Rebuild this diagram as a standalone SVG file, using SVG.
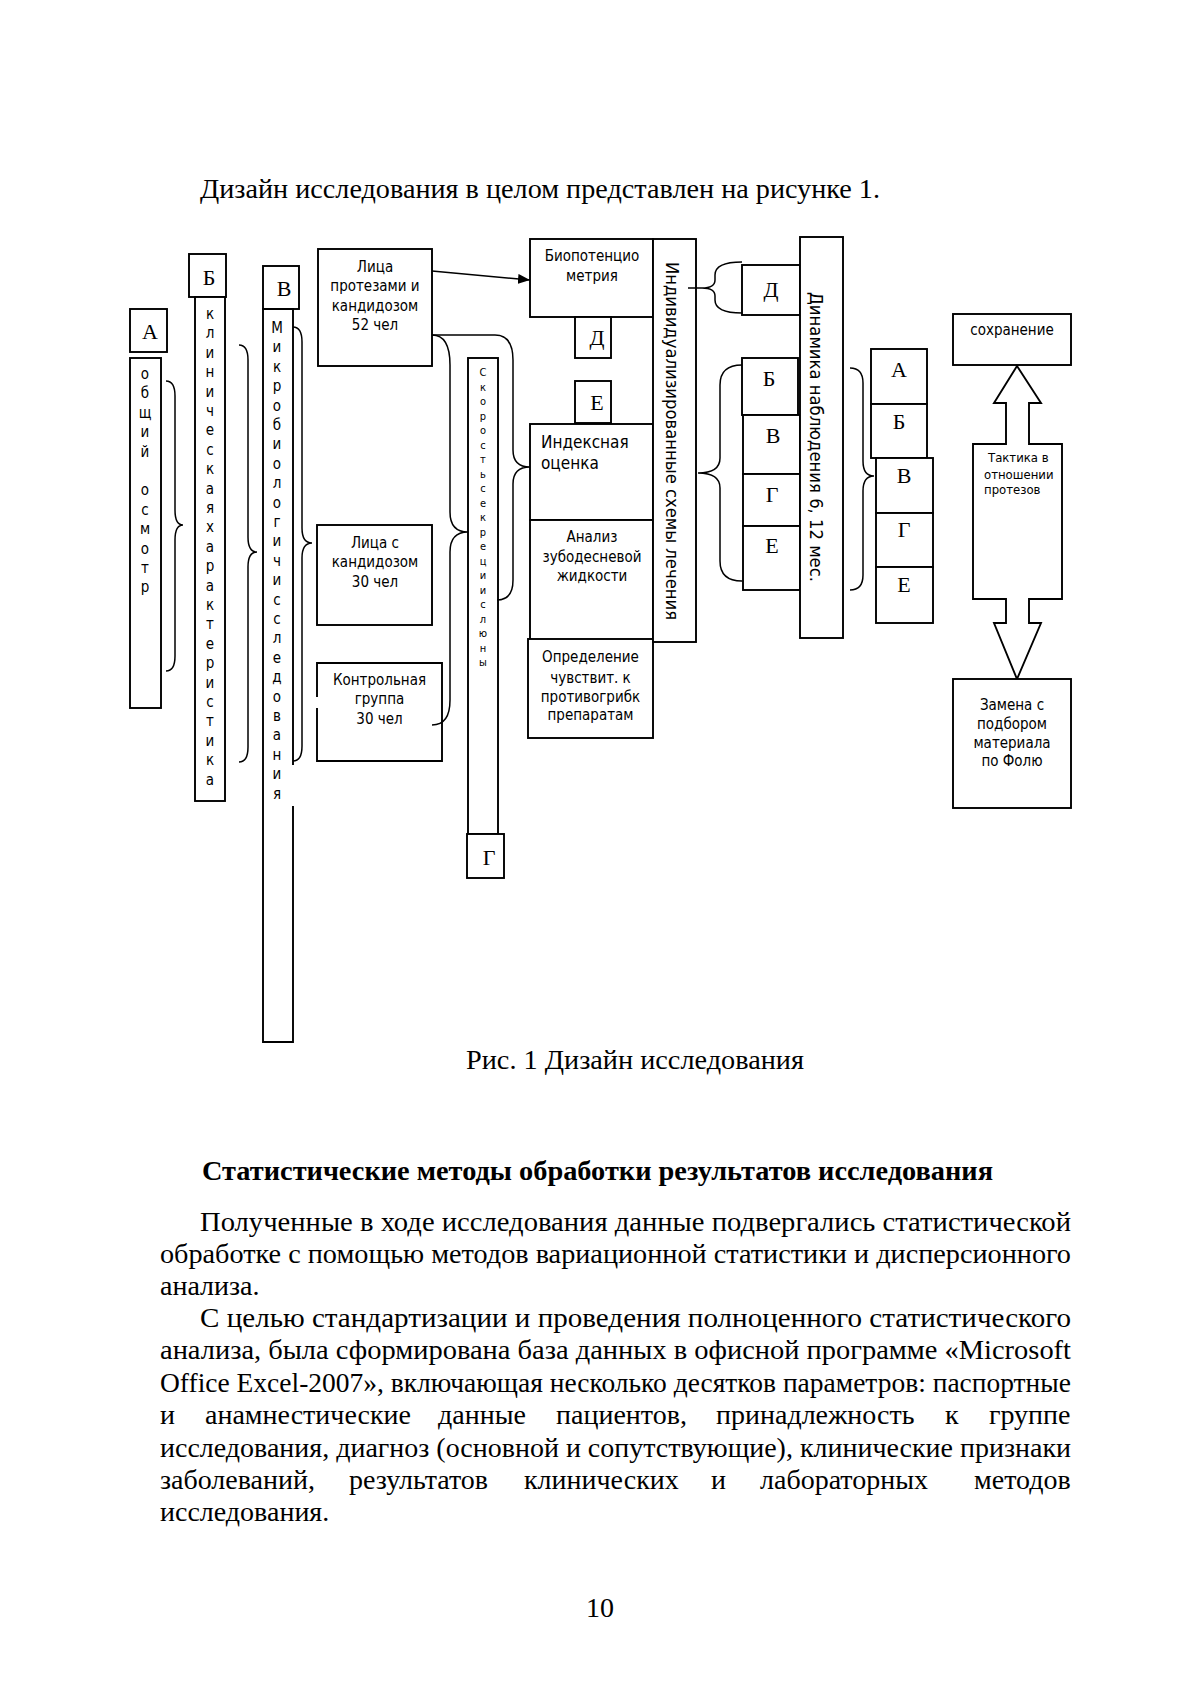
<svg xmlns="http://www.w3.org/2000/svg" width="1197" height="1693" viewBox="0 0 1197 1693">
<style>
.b{fill:#fff;stroke:#000;stroke-width:1.9}
.o{fill:none;stroke:#000;stroke-width:1.9}
.c{fill:none;stroke:#000;stroke-width:1.5}
.s{font-family:"DejaVu Sans Condensed","DejaVu Sans",sans-serif;font-size:15px;text-anchor:middle;fill:#000}
.v{font-family:"DejaVu Sans Condensed","DejaVu Sans",sans-serif;font-size:15px;text-anchor:middle;fill:#000}
.l{font-family:"Liberation Serif",serif;font-size:22px;text-anchor:middle;fill:#000}
.p{font-family:"Liberation Serif",serif;font-size:28px;fill:#000}
</style>
<defs>
<marker id="ah" markerWidth="12" markerHeight="10" refX="12" refY="5" orient="auto" markerUnits="userSpaceOnUse">
<path d="M0,0 L12,5 L0,10 z" fill="#000"/>
</marker>
</defs>
<rect width="1197" height="1693" fill="#fff"/>

<text class="p" x="200" y="198" textLength="680" lengthAdjust="spacingAndGlyphs">Дизайн исследования в целом представлен на рисунке 1.</text>

<g id="nA">
<rect class="b" x="130" y="309" width="37" height="43"/>
<text class="l" x="150" y="339">А</text>
</g>
<g id="nA-col">
<rect class="b" x="130" y="358" width="31" height="350"/>
<text class="v"><tspan x="145" y="379">о</tspan><tspan x="145" dy="19.4">б</tspan><tspan x="145" dy="19.4">щ</tspan><tspan x="145" dy="19.4">и</tspan><tspan x="145" dy="19.4">й</tspan><tspan x="145" dy="38.8">о</tspan><tspan x="145" dy="19.4">с</tspan><tspan x="145" dy="19.4">м</tspan><tspan x="145" dy="19.4">о</tspan><tspan x="145" dy="19.4">т</tspan><tspan x="145" dy="19.4">р</tspan></text>
</g>
<g id="nB">
<rect class="b" x="189" y="254" width="37" height="43"/>
<text class="l" x="209" y="285">Б</text>
</g>
<g id="nB-col">
<rect class="b" x="195" y="297" width="30" height="504"/>
<text class="v"><tspan x="210" y="319">к</tspan><tspan x="210" dy="19.4">л</tspan><tspan x="210" dy="19.4">и</tspan><tspan x="210" dy="19.4">н</tspan><tspan x="210" dy="19.4">и</tspan><tspan x="210" dy="19.4">ч</tspan><tspan x="210" dy="19.4">е</tspan><tspan x="210" dy="19.4">с</tspan><tspan x="210" dy="19.4">к</tspan><tspan x="210" dy="19.4">а</tspan><tspan x="210" dy="19.4">я</tspan><tspan x="210" dy="19.4">х</tspan><tspan x="210" dy="19.4">а</tspan><tspan x="210" dy="19.4">р</tspan><tspan x="210" dy="19.4">а</tspan><tspan x="210" dy="19.4">к</tspan><tspan x="210" dy="19.4">т</tspan><tspan x="210" dy="19.4">е</tspan><tspan x="210" dy="19.4">р</tspan><tspan x="210" dy="19.4">и</tspan><tspan x="210" dy="19.4">с</tspan><tspan x="210" dy="19.4">т</tspan><tspan x="210" dy="19.4">и</tspan><tspan x="210" dy="19.4">к</tspan><tspan x="210" dy="19.4">а</tspan></text>
</g>
<g id="nV">
<rect class="b" x="263" y="266" width="36" height="43"/>
<text class="l" x="284" y="296">В</text>
</g>
<g id="nV-col">
<rect x="263" y="309" width="30" height="733" fill="#fff"/>
<path class="o" d="M293,765 L293,309 L263,309 L263,1042 L293,1042 L293,806"/>
<text class="v"><tspan x="277" y="333">М</tspan><tspan x="277" dy="19.4">и</tspan><tspan x="277" dy="19.4">к</tspan><tspan x="277" dy="19.4">р</tspan><tspan x="277" dy="19.4">о</tspan><tspan x="277" dy="19.4">б</tspan><tspan x="277" dy="19.4">и</tspan><tspan x="277" dy="19.4">о</tspan><tspan x="277" dy="19.4">л</tspan><tspan x="277" dy="19.4">о</tspan><tspan x="277" dy="19.4">г</tspan><tspan x="277" dy="19.4">и</tspan><tspan x="277" dy="19.4">ч</tspan><tspan x="277" dy="19.4">и</tspan><tspan x="277" dy="19.4">с</tspan><tspan x="277" dy="19.4">с</tspan><tspan x="277" dy="19.4">л</tspan><tspan x="277" dy="19.4">е</tspan><tspan x="277" dy="19.4">д</tspan><tspan x="277" dy="19.4">о</tspan><tspan x="277" dy="19.4">в</tspan><tspan x="277" dy="19.4">а</tspan><tspan x="277" dy="19.4">н</tspan><tspan x="277" dy="19.4">и</tspan><tspan x="277" dy="19.4">я</tspan></text>
</g>

<g id="n52">
<rect class="b" x="318" y="249" width="114" height="117"/>
<text class="s"><tspan x="375" y="271.5">Лица</tspan><tspan x="375" y="291">протезами и</tspan><tspan x="375" y="310.5">кандидозом</tspan><tspan x="375" y="329.5">52 чел</tspan></text>
</g>
<g id="n30">
<rect class="b" x="317" y="525" width="115" height="100"/>
<text class="s"><tspan x="375" y="548">Лица с</tspan><tspan x="375" y="567">кандидозом</tspan><tspan x="375" y="587">30 чел</tspan></text>
</g>
<g id="nControl">
<rect x="317" y="663" width="125" height="98" fill="#fff"/>
<path class="o" d="M317,697 L317,663 L442,663 L442,761 L317,761 L317,708"/>
<text class="s"><tspan x="379.5" y="685">Контрольная</tspan><tspan x="379.5" y="704">группа</tspan><tspan x="379.5" y="724">30 чел</tspan></text>
</g>

<g id="nSaliva">
<rect class="b" x="468" y="358" width="30" height="476"/>
<text class="v" style="font-size:11px"><tspan x="483" y="376">С</tspan><tspan x="483" dy="14.5">к</tspan><tspan x="483" dy="14.5">о</tspan><tspan x="483" dy="14.5">р</tspan><tspan x="483" dy="14.5">о</tspan><tspan x="483" dy="14.5">с</tspan><tspan x="483" dy="14.5">т</tspan><tspan x="483" dy="14.5">ь</tspan><tspan x="483" dy="14.5">с</tspan><tspan x="483" dy="14.5">е</tspan><tspan x="483" dy="14.5">к</tspan><tspan x="483" dy="14.5">р</tspan><tspan x="483" dy="14.5">е</tspan><tspan x="483" dy="14.5">ц</tspan><tspan x="483" dy="14.5">и</tspan><tspan x="483" dy="14.5">и</tspan><tspan x="483" dy="14.5">с</tspan><tspan x="483" dy="14.5">л</tspan><tspan x="483" dy="14.5">ю</tspan><tspan x="483" dy="14.5">н</tspan><tspan x="483" dy="14.5">ы</tspan></text>
</g>
<g id="nG">
<rect class="b" x="467" y="834" width="37" height="44"/>
<text class="l" x="489" y="865">Г</text>
</g>

<g id="nBio">
<rect class="b" x="530" y="239" width="123" height="78"/>
<text class="s"><tspan x="592" y="261">Биопотенцио</tspan><tspan x="592" y="281">метрия</tspan></text>
</g>
<g id="nD1">
<rect class="b" x="575" y="317" width="36" height="41"/>
<text class="l" x="597" y="345">Д</text>
</g>
<g id="nE1">
<rect class="b" x="575" y="381" width="36" height="42"/>
<text class="l" x="597" y="410">Е</text>
</g>
<g id="nIndex">
<rect class="b" x="530" y="424" width="123" height="96"/>
<text class="s" style="text-anchor:start;font-size:17px"><tspan x="541" y="448">Индексная</tspan><tspan x="541" y="469">оценка</tspan></text>
</g>
<g id="nFluid">
<rect class="b" x="530" y="520" width="123" height="120"/>
<text class="s"><tspan x="592" y="542">Анализ</tspan><tspan x="592" y="562">зубодесневой</tspan><tspan x="592" y="581">жидкости</tspan></text>
</g>
<g id="nSens">
<rect class="b" x="528" y="639" width="125" height="99"/>
<text class="s"><tspan x="590.5" y="662">Определение</tspan><tspan x="590.5" y="683">чувствит. к</tspan><tspan x="590.5" y="702">противогрибк</tspan><tspan x="590.5" y="720">препаратам</tspan></text>
</g>
<g id="nSchemes">
<rect class="b" x="653" y="239" width="43" height="403"/>
<text class="v" style="font-size:17.5px" transform="translate(666,441) rotate(90)" x="0" y="0" textLength="358" lengthAdjust="spacingAndGlyphs">Индивидуализированные схемы лечения</text>
</g>

<g id="nD2">
<rect class="b" x="742" y="265" width="58" height="50"/>
<text class="l" x="771" y="297">Д</text>
</g>
<g id="nB2">
<rect class="b" x="742" y="358" width="56" height="57"/>
<text class="l" x="769" y="386">Б</text>
</g>
<g id="nV2">
<rect class="b" x="743" y="415" width="57" height="59"/>
<text class="l" x="773" y="443">В</text>
</g>
<g id="nG2">
<rect class="b" x="743" y="474" width="57" height="52"/>
<text class="l" x="772" y="502">Г</text>
</g>
<g id="nE2">
<rect class="b" x="743" y="526" width="57" height="64"/>
<text class="l" x="772" y="553">Е</text>
</g>
<g id="nDyn">
<rect class="b" x="800" y="237" width="43" height="401"/>
<text class="v" style="font-size:17.5px" transform="translate(810,437) rotate(90)" x="0" y="0" textLength="290" lengthAdjust="spacingAndGlyphs">Динамика наблюдения 6, 12 мес.</text>
</g>

<g id="nA3">
<rect class="b" x="871" y="349" width="56" height="55"/>
<text class="l" x="899" y="377">А</text>
</g>
<g id="nB3">
<rect class="b" x="871" y="404" width="56" height="54"/>
<text class="l" x="899" y="429">Б</text>
</g>
<g id="nV3">
<rect class="b" x="876" y="458" width="57" height="55"/>
<text class="l" x="904" y="483">В</text>
</g>
<g id="nG3">
<rect class="b" x="876" y="513" width="57" height="54"/>
<text class="l" x="904" y="537">Г</text>
</g>
<g id="nE3">
<rect class="b" x="876" y="567" width="57" height="56"/>
<text class="l" x="904" y="592">Е</text>
</g>

<g id="nKeep">
<rect class="b" x="953" y="314" width="118" height="51"/>
<text class="s" x="1012" y="335">сохранение</text>
</g>
<g id="nTactic">
<polygon class="b" points="1017,366 1041,403 1029,403 1029,444 1062,444 1062,599 1029,599 1029,623 1041,623 1017,679 994,623 1006,623 1006,599 973,599 973,444 1006,444 1006,403 994,403"/>
<text class="s" style="text-anchor:start;font-size:13px"><tspan x="988" y="462">Тактика в</tspan><tspan x="984" y="479">отношении</tspan><tspan x="984" y="494">протезов</tspan></text>
</g>
<g id="nReplace">
<rect class="b" x="953" y="679" width="118" height="129"/>
<text class="s"><tspan x="1012" y="710">Замена с</tspan><tspan x="1012" y="729">подбором</tspan><tspan x="1012" y="748">материала</tspan><tspan x="1012" y="766">по Фолю</tspan></text>
</g>

<g id="connectors">
<line class="c" x1="432" y1="271" x2="530" y2="280" marker-end="url(#ah)"/>
<path class="c" d="M166,381 Q175,381 175,396 L175,510 Q175,525 183,525 Q175,525 175,540 L175,656 Q175,671 166,671"/>
<path class="c" d="M239,345 Q248,345 248,360 L248,537 Q248,552 257,552 Q248,552 248,567 L248,747 Q248,762 239,762"/>
<path class="c" d="M293,327 Q302,327 302,342 L302,528 Q302,543 312,543 Q302,543 302,558 L302,746 Q302,761 293,761"/>
<path class="c" d="M432,335 Q450,335 450,365 L450,512 Q450,532 468,532 Q450,532 450,552 L450,700 Q450,725 432,725"/>
<path class="c" d="M432,335 L495,335 Q513,335 513,360 L513,450 Q513,467 530,467 Q513,467 513,484 L513,580 Q513,600 497,600"/>
<path class="c" d="M688,288 L702,288 M742,262 Q715,262 715,275 L715,280 Q715,288 702,288 Q715,288 715,296 L715,300 Q715,313 742,313"/>
<path class="c" d="M742,365 Q720,365 720,385 L720,458 Q720,473 698,473 Q720,473 720,488 L720,561 Q720,581 742,581"/>
<path class="c" d="M850,368 Q863,368 863,383 L863,461 Q863,476 874,476 Q863,476 863,491 L863,575 Q863,590 850,590"/>
</g>

<text class="p" x="466" y="1069" textLength="338" lengthAdjust="spacingAndGlyphs">Рис. 1 Дизайн исследования</text>
<text class="p" x="202" y="1180" textLength="791" lengthAdjust="spacingAndGlyphs" font-weight="bold">Статистические методы обработки результатов исследования</text>
<text class="p" x="200" y="1231" textLength="871" lengthAdjust="spacingAndGlyphs">Полученные в ходе исследования данные подвергались статистической</text>
<text class="p" x="160" y="1263" textLength="911" lengthAdjust="spacingAndGlyphs">обработке с помощью методов вариационной статистики и дисперсионного</text>
<text class="p" x="160" y="1295">анализа.</text>
<text class="p" x="200" y="1327" textLength="871" lengthAdjust="spacingAndGlyphs">С целью стандартизации и  проведения полноценного статистического</text>
<text class="p" x="160" y="1359" textLength="911" lengthAdjust="spacingAndGlyphs">анализа, была сформирована база данных в офисной программе «Microsoft</text>
<text class="p" x="160" y="1392" textLength="911" lengthAdjust="spacingAndGlyphs">Office Excel-2007», включающая несколько десятков параметров: паспортные</text>
<text class="p" y="1424"><tspan x="160">и</tspan><tspan x="205">анамнестические</tspan><tspan x="438">данные</tspan><tspan x="556">пациентов,</tspan><tspan x="716">принадлежность</tspan><tspan x="945">к</tspan><tspan x="989">группе</tspan></text>
<text class="p" x="160" y="1457" textLength="911" lengthAdjust="spacingAndGlyphs">исследования, диагноз (основной и сопутствующие), клинические признаки</text>
<text class="p" y="1489"><tspan x="160">заболеваний,</tspan><tspan x="349">результатов</tspan><tspan x="524">клинических</tspan><tspan x="711">и</tspan><tspan x="760">лабораторных</tspan><tspan x="974">методов</tspan></text>
<text class="p" x="160" y="1521">исследования.</text>
<text class="p" x="600" y="1617" text-anchor="middle">10</text>
</svg>
